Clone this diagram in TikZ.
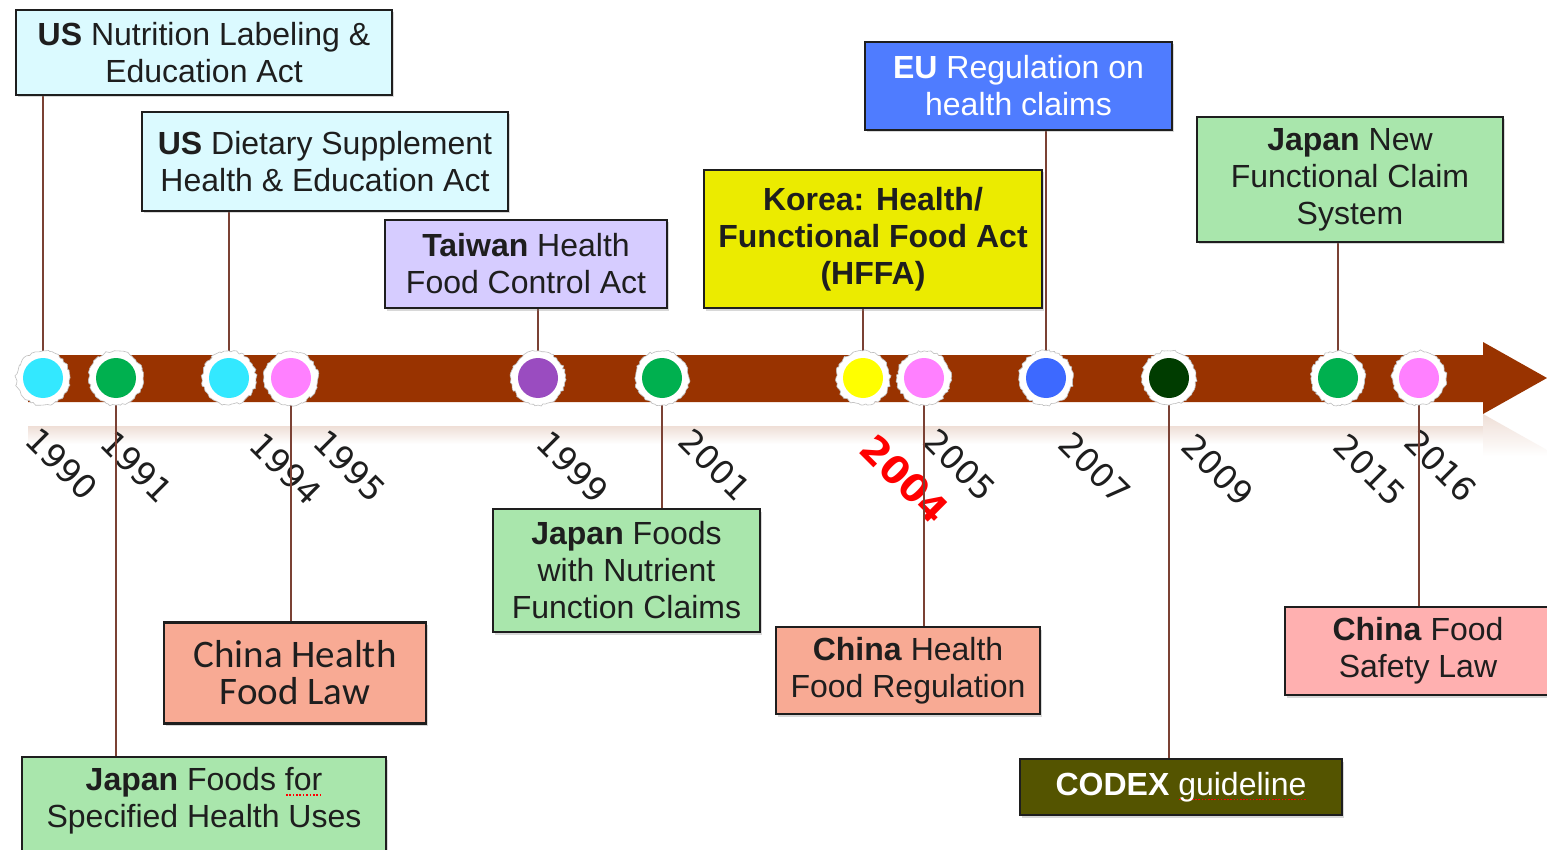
\documentclass[tikz,border=0pt]{standalone}
\usepackage{fontspec}
\setmainfont{Liberation Sans}
\newfontfamily\yearfont{DejaVu Sans}
\newfontfamily\yearboldfont{DejaVu Sans Bold}
\newfontfamily\calfont{Carlito}
\usetikzlibrary{shadows,decorations.pathmorphing}

\definecolor{shaft}{HTML}{993300}
\definecolor{connbrown}{HTML}{7B4134}
\definecolor{cyanbox}{HTML}{DBFAFF}
\definecolor{lavbox}{HTML}{D6CCFF}
\definecolor{yelbox}{HTML}{EBEB00}
\definecolor{bluebox}{HTML}{4F7CFF}
\definecolor{greenbox}{HTML}{A9E6AC}
\definecolor{salbox}{HTML}{F8AA94}
\definecolor{pinkbox}{HTML}{FFB0B0}
\definecolor{olivebox}{HTML}{545400}
\definecolor{dotcyan}{HTML}{33E8FF}
\definecolor{dotgreen}{HTML}{00B04F}
\definecolor{dotpink}{HTML}{FF80FF}
\definecolor{dotpurple}{HTML}{9A4CC0}
\definecolor{dotyellow}{HTML}{FFFF00}
\definecolor{dotblue}{HTML}{3D69FF}
\definecolor{dotdark}{HTML}{003C00}
\definecolor{ink}{HTML}{1E1E1E}

% word with a dotted red underline
\newcommand\spellmark[2]{\setbox0\hbox{#2}%
  \rlap{\textcolor{red}{\raisebox{-5pt}{\hbox to \wd0{\xleaders\hbox to 3.2pt{\hss\rule{1.6pt}{1.6pt}\hss}\hfill}}}}%
  \textcolor{#1}{#2}}

\pgfdeclarelayer{back}
\pgfdeclarelayer{mid}
\pgfsetlayers{back,mid,main}

\begin{document}
\begin{tikzpicture}[x=1pt,y=-1pt,
  event/.style={draw=ink, line width=2.2pt, inner sep=0pt, align=center,
    text=ink, font=\fontsize{32}{37}\selectfont,
    drop shadow={shadow xshift=2pt, shadow yshift=-2.5pt, opacity=0.3}},
  conn/.style={draw=connbrown, line width=2pt},
  halo/.style={fill=white, draw=black!25, line width=0.6pt, decorate,
    decoration={random steps, segment length=2.5pt, amplitude=1.2pt}},
  milestone/.style={circle, inner sep=0pt, minimum size=40pt},
  year/.style={rotate=-45, inner sep=0pt, text=ink,
    font=\yearfont\fontsize{33}{33}\selectfont}
]
\useasboundingbox (0,0) rectangle (1547,850);

\begin{pgfonlayer}{back}
  \fill[white] (0,0) rectangle (1547,850);
  % faint reflection under the time axis
  \shade[top color=shaft!16, bottom color=white] (28,426) rectangle (1483,444);
  \shade[top color=shaft!16, bottom color=white] (1483,414) -- (1547,450) -- (1547,456) -- (1483,456) -- cycle;
  % time axis
  \fill[shaft] (28,355) -- (1483,355) -- (1483,342) -- (1547,378) -- (1483,414) -- (1483,402) -- (28,402) -- cycle;
  % years
  \node[year] (y1990) at (62,464) {1990};
  \node[year] (y1991) at (137,467) {1991};
  \node[year] (y1994) at (286,469) {1994};
  \node[year] (y1995) at (350,466) {1995};
  \node[year] (y1999) at (573,467) {1999};
  \node[year] (y2001) at (715,465) {2001};
  \node[year, text=red, font=\yearboldfont\fontsize{38}{38}\selectfont] (y2004) at (905,479) {2004};
  \node[year] (y2005) at (960,465) {2005};
  \node[year] (y2007) at (1095,468) {2007};
  \node[year] (y2009) at (1218,470) {2009};
  \node[year] (y2015) at (1370,470) {2015};
  \node[year] (y2016) at (1441,466) {2016};
\end{pgfonlayer}

% milestones on the axis
\foreach \n/\x/\c in {1990/43/dotcyan, 1991/116/dotgreen, 1994/229/dotcyan,
    1995/291/dotpink, 1999/538/dotpurple, 2001/662/dotgreen, 2004/863/dotyellow,
    2005/924/dotpink, 2007/1046/dotblue, 2009/1169/dotdark, 2015/1338/dotgreen,
    2016/1419/dotpink}{
  \path[halo] (\x,378) circle[radius=27];
  \node[milestone, fill=\c] (c\n) at (\x,378) {};
}

% regulations above the axis
\node[event, fill=cyanbox, minimum width=376pt, minimum height=85pt] (b1990) at (204,52.5)
  {\textbf{US} Nutrition Labeling \&\\Education Act};
\node[event, fill=cyanbox, minimum width=366pt, minimum height=99pt] (b1994) at (325,161.5)
  {\textbf{US} Dietary Supplement\\Health \& Education Act};
\node[event, fill=lavbox, minimum width=282pt, minimum height=88pt] (b1999) at (526,264)
  {\textbf{Taiwan} Health\\Food Control Act};
\node[event, fill=yelbox, minimum width=338pt, minimum height=138pt,
  font=\bfseries\fontsize{32}{37}\selectfont] (b2004) at (873,239)
  {Korea: Health/\\Functional Food Act\\(HFFA)};
\node[event, fill=bluebox, text=white, minimum width=307pt, minimum height=88pt] (b2007) at (1018.5,86)
  {\textbf{EU} Regulation on\\health claims};
\node[event, fill=greenbox, minimum width=306pt, minimum height=125pt] (b2015) at (1350,179.5)
  {\textbf{Japan} New\\Functional Claim\\System};

% regulations below the axis
\node[event, fill=greenbox, minimum width=267pt, minimum height=123pt] (b2001) at (626.5,570.5)
  {\textbf{Japan} Foods\\with Nutrient\\Function Claims};
\node[event, fill=salbox, minimum width=264pt, minimum height=87pt] (b2005) at (908,670.5)
  {\textbf{China} Health\\Food Regulation};
\node[event, fill=salbox, minimum width=262pt, minimum height=101pt,
  font=\calfont\fontsize{39}{37}\selectfont] (b1995) at (295,673)
  {China Health\\Food Law};
\node[event, fill=greenbox, minimum width=364pt, minimum height=110pt, anchor=north] (b1991) at (204,756) {};
\node[align=center, text=ink, inner sep=0pt, font=\fontsize{32}{37}\selectfont] (t1991) at (204,801)
  {\textbf{Japan} Foods \spellmark{ink}{for}\\Specified Health Uses};
\node[event, fill=olivebox, text=white, minimum width=322pt, minimum height=56pt] (b2009) at (1181,787)
  {\textbf{CODEX} \spellmark{white}{guideline}};
\node[event, fill=pinkbox, minimum width=266pt, minimum height=88pt] (b2016) at (1418,651)
  {\textbf{China} Food\\Safety Law};

% connectors from milestones to regulations
\begin{pgfonlayer}{mid}
  \draw[conn] (c1990) -- (c1990 |- b1990.south);
  \draw[conn] (c1991) -- (c1991 |- b1991.north);
  \draw[conn] (c1994) -- (c1994 |- b1994.south);
  \draw[conn] (c1995) -- (c1995 |- b1995.north);
  \draw[conn] (c1999) -- (c1999 |- b1999.south);
  \draw[conn] (c2001) -- (c2001 |- b2001.north);
  \draw[conn] (c2004) -- (c2004 |- b2004.south);
  \draw[conn] (c2005) -- (c2005 |- b2005.north);
  \draw[conn] (c2007) -- (c2007 |- b2007.south);
  \draw[conn] (c2009) -- (c2009 |- b2009.north);
  \draw[conn] (c2015) -- (c2015 |- b2015.south);
  \draw[conn] (c2016) -- (c2016 |- b2016.north);
\end{pgfonlayer}
\end{tikzpicture}
\end{document}
